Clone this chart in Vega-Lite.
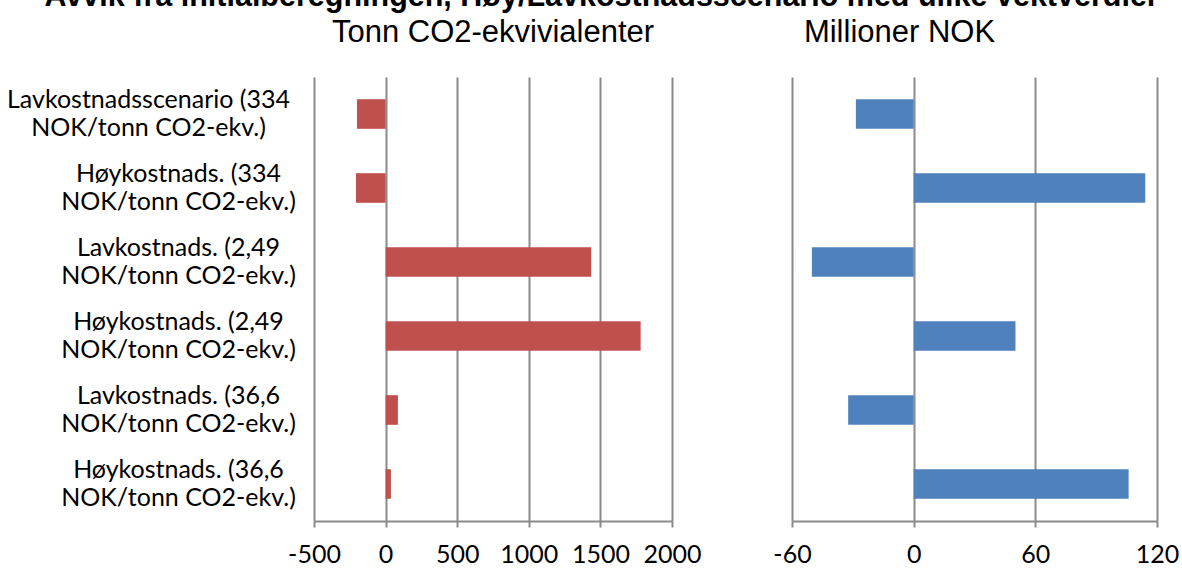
{
  "$schema": "https://vega.github.io/schema/vega-lite/v6.json",
  "autosize": {"type": "none"},
  "padding": {"left": 314, "top": 77, "right": 25, "bottom": 47},
  "params": [
    {"name": "width", "value": 843},
    {"name": "height", "value": 444}
  ],
  "background": "white",
  "title": {
    "text": "Avvik fra initialberegningen, Høy/Lavkostnadsscenario med ulike vektverdier",
    "font": "Liberation Sans",
    "fontSize": 30.5,
    "fontWeight": "bold",
    "color": "black",
    "anchor": "middle",
    "baseline": "alphabetic",
    "offset": 6,
    "dy": 25,
    "dx": 9
  },
  "data": {
    "values": [
      {"cat": "Lavkostnadsscenario (334|NOK/tonn CO2-ekv.)", "tonn": -200, "mill": -28.5},
      {"cat": "Høykostnads. (334|NOK/tonn CO2-ekv.)", "tonn": -207, "mill": 114.2},
      {"cat": "Lavkostnads. (2,49|NOK/tonn CO2-ekv.)", "tonn": 1436, "mill": -50.2},
      {"cat": "Høykostnads. (2,49|NOK/tonn CO2-ekv.)", "tonn": 1781, "mill": 50.2},
      {"cat": "Lavkostnads. (36,6|NOK/tonn CO2-ekv.)", "tonn": 86, "mill": -32.3},
      {"cat": "Høykostnads. (36,6|NOK/tonn CO2-ekv.)", "tonn": 37, "mill": 106}
    ]
  },
  "spacing": 120,
  "bounds": "flush",
  "config": {
    "view": {"stroke": null},
    "axis": {
      "labelFont": "Lato",
      "labelFontSize": 25,
      "labelColor": "black",
      "labelLimit": 0,
      "gridColor": "#8a8a8a",
      "gridWidth": 2,
      "domainColor": "#8a8a8a",
      "domainWidth": 2,
      "tickColor": "#8a8a8a",
      "tickWidth": 2
    }
  },
  "hconcat": [
    {
      "width": 358,
      "height": 444,
      "title": {
        "text": "Tonn CO2-ekvivialenter",
        "font": "Liberation Sans",
        "fontSize": 31,
        "fontWeight": "normal",
        "color": "black",
        "baseline": "alphabetic",
        "offset": 4,
        "anchor": "middle"
      },
      "mark": {"type": "bar", "color": "#C0504D"},
      "encoding": {
        "y": {
          "field": "cat",
          "type": "nominal",
          "sort": null,
          "scale": {"paddingInner": 0.6, "paddingOuter": 0.3},
          "axis": {
            "title": null,
            "domain": false,
            "ticks": false,
            "grid": false,
            "labelExpr": "split(datum.label, '|')",
            "labelAlign": "center",
            "labelBaseline": "middle",
            "labelLineHeight": 28,
            "labelOffset": -14,
            "labelPadding": {"condition": {"test": "indexof(datum.value, 'scenario') >= 0", "value": 166}, "value": 136}
          }
        },
        "x": {
          "field": "tonn",
          "type": "quantitative",
          "scale": {"domain": [-500, 2000], "nice": false, "zero": false},
          "axis": {
            "title": null,
            "values": [-500, 0, 500, 1000, 1500, 2000],
            "labelExpr": "'' + datum.value",
            "grid": true,
            "tickSize": 6,
            "labelPadding": 15,
            "labelFlush": false
          }
        }
      }
    },
    {
      "width": 365,
      "height": 444,
      "title": {
        "text": "Millioner NOK",
        "font": "Liberation Sans",
        "fontSize": 31,
        "fontWeight": "normal",
        "color": "black",
        "baseline": "alphabetic",
        "offset": 4,
        "anchor": "middle",
        "dx": -75
      },
      "mark": {"type": "bar", "color": "#4F81BD"},
      "encoding": {
        "y": {
          "field": "cat",
          "type": "nominal",
          "sort": null,
          "scale": {"paddingInner": 0.6, "paddingOuter": 0.3},
          "axis": null
        },
        "x": {
          "field": "mill",
          "type": "quantitative",
          "scale": {"domain": [-60, 120], "nice": false, "zero": false},
          "axis": {
            "title": null,
            "values": [-60, 0, 60, 120],
            "labelExpr": "'' + datum.value",
            "grid": true,
            "tickSize": 6,
            "labelPadding": 15,
            "labelFlush": false
          }
        }
      }
    }
  ]
}
